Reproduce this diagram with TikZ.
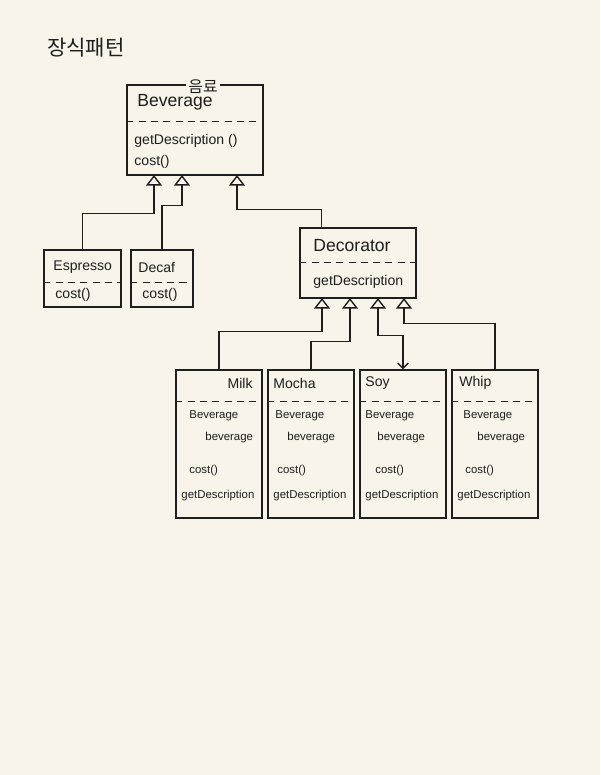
\documentclass[tikz,border=0pt]{standalone}
\usepackage{fontspec}
\setmainfont{Liberation Sans}
\newfontfamily\krfont{Noto Sans CJK KR}
\usepackage{tikz}
\usetikzlibrary{arrows.meta,positioning,calc}
\definecolor{PaperBg}{HTML}{F8F4EA}
\definecolor{InkBlack}{HTML}{1E1E1E}

\begin{document}
\begin{tikzpicture}[
    x=0.02cm, y=-0.02cm,
    cls/.style={rectangle, draw=InkBlack, line width=0.8pt, inner sep=0pt},
    divider/.style={draw=InkBlack, line width=0.6pt, dash pattern=on 4pt off 3pt},
    clsname/.style={anchor=west, inner sep=1pt, text=InkBlack, font=\fontsize{10}{12}\selectfont},
    subname/.style={anchor=west, inner sep=1pt, text=InkBlack, font=\fontsize{8}{10}\selectfont},
    member/.style={anchor=west, inner sep=1pt, text=InkBlack, font=\fontsize{8}{10}\selectfont},
    field/.style={anchor=west, inner sep=1pt, text=InkBlack, font=\fontsize{6.5}{8}\selectfont},
    inherit/.style={-{Triangle[open, width=9pt, length=6pt]}, draw=InkBlack, line width=0.8pt},
    assoc/.style={{Straight Barb[length=3pt, width=6pt]}-{Triangle[open, width=9pt, length=6pt]}, draw=InkBlack, line width=0.8pt}
  ]
    \fill[PaperBg] (0,0) rectangle (600,775);
    \useasboundingbox (0,0) rectangle (600,775);

    \node[text=InkBlack, font={\krfont\fontsize{12}{14}\selectfont}] (title) at (86,48) {장식패턴};

    % Beverage
    \node[cls, minimum width=2.72cm, minimum height=1.8cm] (bev) at (195,130) {};
    \node[fill=PaperBg, inner sep=1.5pt, text=InkBlack, font={\krfont\fontsize{9}{10}\selectfont}] (bevtag) at ($(bev.north)+(8,2)$) {음료};
    \node[clsname] (bevname) at ($(bev.north west)+(9,18)$) {Beverage};
    \draw[divider] ($(bev.north west)+(0,37)$) -- ($(bev.north east)+(0,37)$);
    \node[member] (bevdesc) at ($(bev.north west)+(6,57)$) {getDescription ()};
    \node[member] (bevcost) at ($(bev.north west)+(6,78)$) {cost()};

    % concrete beverages
    \node[cls, minimum width=1.54cm, minimum height=1.14cm] (espresso) at (82.5,278.5) {};
    \node[subname] (espname) at ($(espresso.north west)+(8,18)$) {Espresso};
    \draw[divider] ($(espresso.north west)+(0,33)$) -- ($(espresso.north east)+(0,33)$);
    \node[member] (espcost) at ($(espresso.north west)+(10,46)$) {cost()};

    \node[cls, minimum width=1.24cm, minimum height=1.14cm] (decaf) at (162,278.5) {};
    \node[subname] (decname) at ($(decaf.north west)+(6,18)$) {Decaf};
    \draw[divider] ($(decaf.north west)+(0,33)$) -- ($(decaf.north east)+(0,33)$);
    \node[member] (deccost) at ($(decaf.north west)+(10,46)$) {cost()};

    % Decorator
    \node[cls, minimum width=2.32cm, minimum height=1.4cm] (deco) at (358,263) {};
    \node[clsname] (deconame) at ($(deco.north west)+(12,18)$) {Decorator};
    \draw[divider] ($(deco.north west)+(0,35)$) -- ($(deco.north east)+(0,35)$);
    \node[member] (decodesc) at ($(deco.north west)+(12,55)$) {getDescription};

    % condiments
    \node[cls, minimum width=1.72cm, minimum height=2.96cm] (milk) at (219,444) {};
    \node[subname, anchor=east] (milkname) at ($(milk.north east)+(-8,14)$) {Milk};
    \draw[divider] ($(milk.north west)+(0,32)$) -- ($(milk.north east)+(0,32)$);
    \node[field] (milkf1) at ($(milk.north west)+(12,46)$) {Beverage};
    \node[field] (milkf2) at ($(milk.north west)+(28,68)$) {beverage};
    \node[field] (milkm1) at ($(milk.north west)+(12,101)$) {cost()};
    \node[field] (milkm2) at ($(milk.north west)+(4,126)$) {getDescription};

    \node[cls, minimum width=1.72cm, minimum height=2.96cm] (mocha) at (311,444) {};
    \node[subname] (mochaname) at ($(mocha.north west)+(4,14)$) {Mocha};
    \draw[divider] ($(mocha.north west)+(0,32)$) -- ($(mocha.north east)+(0,32)$);
    \node[field] (mochaf1) at ($(mocha.north west)+(6,46)$) {Beverage};
    \node[field] (mochaf2) at ($(mocha.north west)+(18,68)$) {beverage};
    \node[field] (mocham1) at ($(mocha.north west)+(8,101)$) {cost()};
    \node[field] (mocham2) at ($(mocha.north west)+(4,126)$) {getDescription};

    \node[cls, minimum width=1.72cm, minimum height=2.96cm] (soy) at (403,444) {};
    \node[subname] (soyname) at ($(soy.north west)+(4,14)$) {Soy};
    \draw[divider] ($(soy.north west)+(0,32)$) -- ($(soy.north east)+(0,32)$);
    \node[field] (soyf1) at ($(soy.north west)+(4,46)$) {Beverage};
    \node[field] (soyf2) at ($(soy.north west)+(16,68)$) {beverage};
    \node[field] (soym1) at ($(soy.north west)+(14,101)$) {cost()};
    \node[field] (soym2) at ($(soy.north west)+(4,126)$) {getDescription};

    \node[cls, minimum width=1.72cm, minimum height=2.96cm] (whip) at (495,444) {};
    \node[subname] (whipname) at ($(whip.north west)+(6,14)$) {Whip};
    \draw[divider] ($(whip.north west)+(0,32)$) -- ($(whip.north east)+(0,32)$);
    \node[field] (whipf1) at ($(whip.north west)+(10,46)$) {Beverage};
    \node[field] (whipf2) at ($(whip.north west)+(24,68)$) {beverage};
    \node[field] (whipm1) at ($(whip.north west)+(12,101)$) {cost()};
    \node[field] (whipm2) at ($(whip.north west)+(4,126)$) {getDescription};

    % inlets on the parents
    \coordinate (bevin1) at (154,175);
    \coordinate (bevin2) at (182,175);
    \coordinate (bevin3) at (237,175);
    \coordinate (decin1) at (322,298);
    \coordinate (decin2) at (350,298);
    \coordinate (decin3) at (378,298);
    \coordinate (decin4) at (404,298);

    \draw[inherit] (espresso.north) -- ++(0,-36) -| (bevin1);
    \draw[inherit] (decaf.north) -- ++(0,-44) -| (bevin2);
    \draw[inherit] ($(deco.north west)+(22,0)$) -- ++(0,-18) -| (bevin3);
    \draw[inherit] (milk.north) -- ++(0,-38) -| (decin1);
    \draw[inherit] (mocha.north) -- ++(0,-28) -| (decin2);
    \draw[assoc] (soy.north) -- ++(0,-34) -| (decin3);
    \draw[inherit] (whip.north) -- ++(0,-46) -| (decin4);
  \end{tikzpicture}
\end{document}
